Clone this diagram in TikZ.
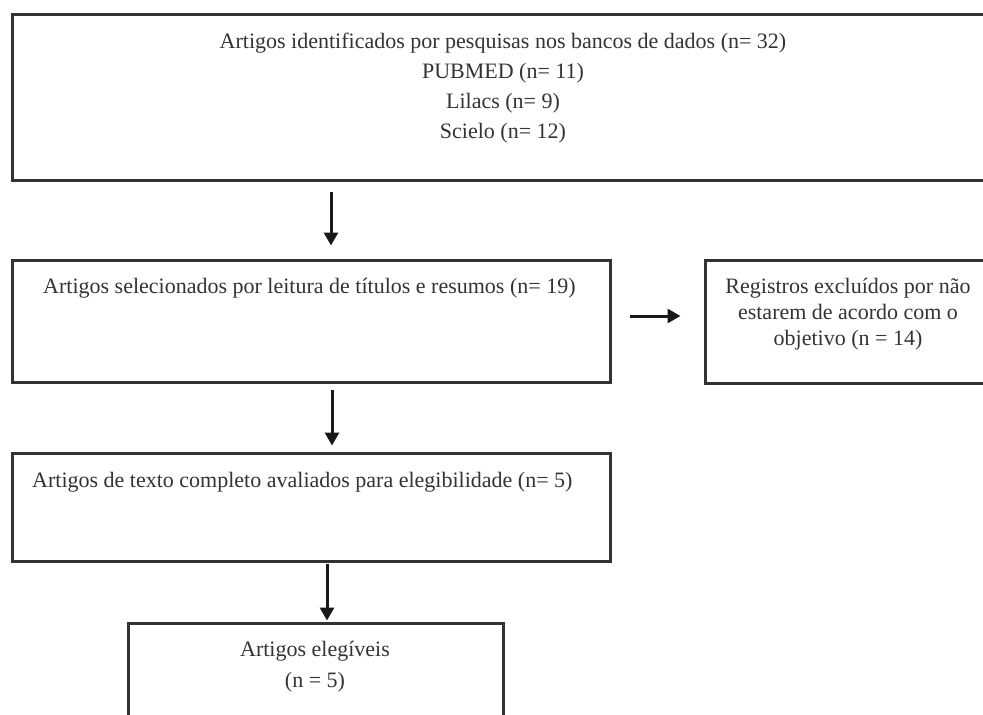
\documentclass[tikz,border=0pt]{standalone}
\usepackage{fontspec}
\setmainfont{Liberation Serif}
\usetikzlibrary{arrows.meta}
\begin{document}
\begin{tikzpicture}[x=1pt,y=-1pt,
  box/.style={draw=black!80, line width=3pt, inner sep=0pt},
  txt/.style={inner sep=0pt, text=black!80, font=\fontsize{22}{30}\selectfont},
  arr/.style={draw=black!90, line width=3pt, -{Triangle[length=13pt,width=14pt]}}]
\useasboundingbox (0,0) rectangle (983,715);
\clip (0,0) rectangle (983,715);

% Boxes
\node[box, minimum width=982pt, minimum height=166pt] (ident) at (503,97) {};
\node[box, minimum width=598pt, minimum height=122pt] (selec) at (311,321) {};
\node[box, minimum width=290pt, minimum height=123pt] (exclu) at (850,321.5) {};
\node[box, minimum width=598pt, minimum height=108pt] (texto) at (311,507) {};
\node[box, minimum width=375pt, minimum height=130pt] (elegi) at (315.5,688) {};

% Texts
\node[txt, align=center] (identtxt) at (503,88)
  {Artigos identificados por pesquisas nos bancos de dados (n= 32)\\
   PUBMED (n= 11)\\ Lilacs (n= 9)\\ Scielo (n= 12)};
\node[txt, anchor=west] (selectxt) at (43,288)
  {Artigos selecionados por leitura de títulos e resumos (n= 19)};
\node[txt, align=center, font=\fontsize{22}{26}\selectfont] (exclutxt) at (848,314)
  {Registros excluídos por não\\ estarem de acordo com o\\ objetivo (n = 14)};
\node[txt, anchor=west] (textotxt) at (32,482)
  {Artigos de texto completo avaliados para elegibilidade (n= 5)};
\node[txt, align=center, font=\fontsize{22}{31}\selectfont] (elegitxt) at (315,667)
  {Artigos elegíveis\\ (n = 5)};

% Arrows
\coordinate (a1) at (331,0);
\coordinate (a2) at (332,0);
\coordinate (a3) at (327,0);
\coordinate (a4) at (0,316);
\draw[arr, shorten <=10pt, shorten >=13pt] (ident.south -| a1) -- (selec.north -| a1);
\draw[arr, shorten <=18pt, shorten >=23pt] (selec.east |- a4) -- (exclu.west |- a4);
\draw[arr, shorten <=6pt, shorten >=6pt] (selec.south -| a2) -- (texto.north -| a2);
\draw[arr, shorten <=1pt, shorten >=1pt] (texto.south -| a3) -- (elegi.north -| a3);

\end{tikzpicture}
\end{document}
